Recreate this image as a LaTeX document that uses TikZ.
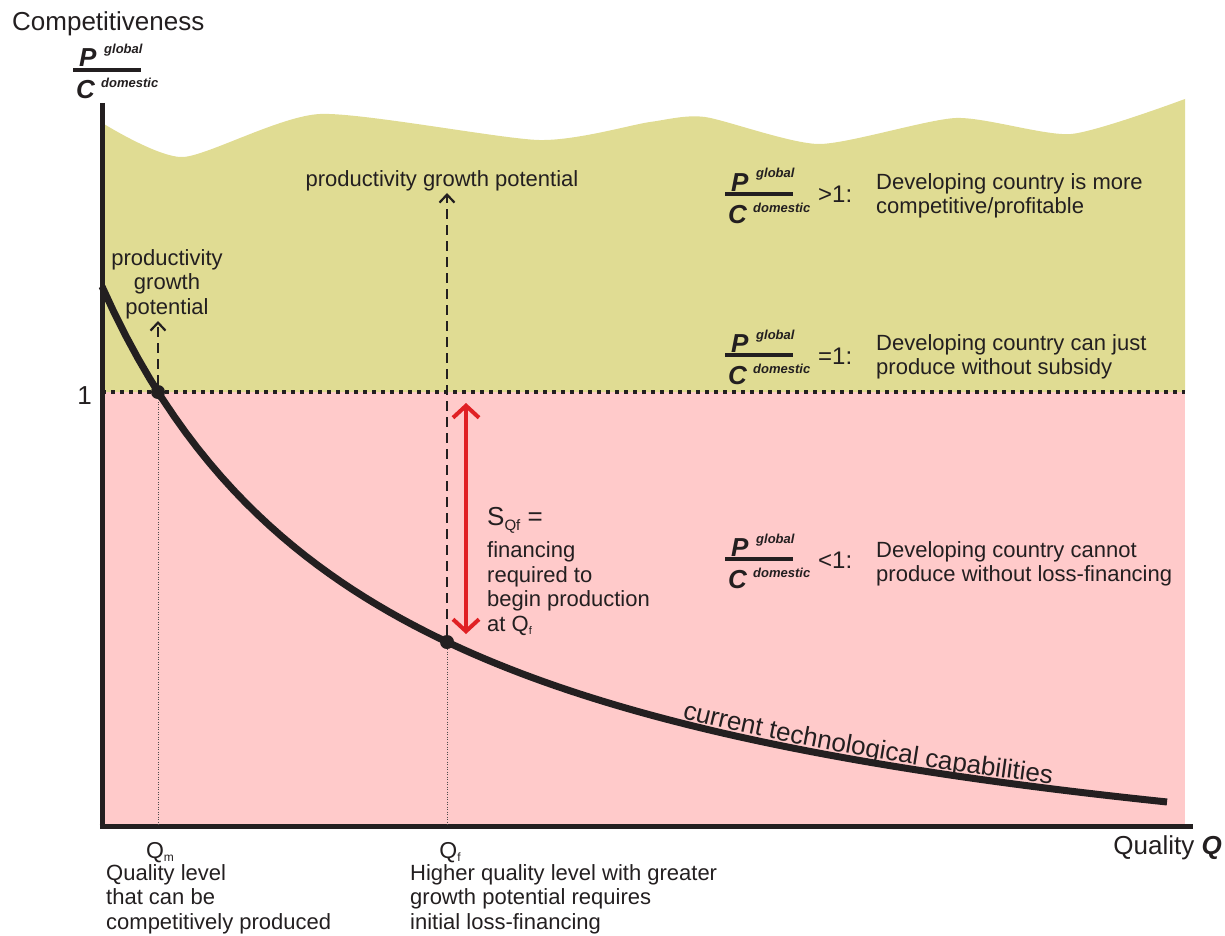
\documentclass[tikz,border=0pt]{standalone}
\usepackage{fontspec}
\setmainfont{Liberation Sans}
\usetikzlibrary{arrows.meta,calc,decorations.text}
\definecolor{ylw}{RGB}{224,220,147}
\definecolor{pnk}{RGB}{255,202,202}
\definecolor{ink}{RGB}{35,31,32}
\definecolor{redar}{RGB}{224,32,36}
\newcommand\bodyfont{\fontsize{22}{24.5}\selectfont}
\newcommand\axfont{\fontsize{26}{28}\selectfont}
\newcommand\pcratio[3]{%
  \coordinate (#1) at (#2,#3);
  \draw[fracbar] (#1) -- ++(68,0) coordinate (#1e);
  \node[bigit, anchor=base west] (#1P) at ($(#1)+(6,-3)$) {P};
  \node[supit, anchor=base west] (#1g) at ($(#1)+(31,-16)$) {global};
  \node[bigit, anchor=base west] (#1C) at ($(#1)+(3,29)$) {C};
  \node[supit, anchor=base west] (#1d) at ($(#1)+(28,18)$) {domestic};
}
\tikzset{
  fracbar/.style={draw=ink, line width=4pt},
  bigit/.style={font=\fontsize{26}{26}\selectfont\bfseries\itshape},
  supit/.style={font=\fontsize{13}{13}\selectfont\bfseries\itshape},
  bodytext/.style={font=\bodyfont},
  axline/.style={draw=ink, line width=5pt},
  capcurve/.style={draw=ink, line width=7pt, line cap=butt},
  dotnode/.style={circle, fill=ink, minimum size=14pt, inner sep=0pt},
  dotline/.style={draw=ink, line width=3.5pt, dash pattern=on 4pt off 5pt},
  thindot/.style={draw=black!70, line width=0.7pt, dash pattern=on 1pt off 1.5pt},
  dasharrow/.style={draw=ink, line width=2.2pt, dash pattern=on 10pt off 6pt, -{Straight Barb[length=8pt,width=15pt]}},
  redarrow/.style={draw=redar, line width=4pt, {Straight Barb[length=12pt,width=26pt]}-{Straight Barb[length=12pt,width=26pt]}},
}
\begin{document}
\begin{tikzpicture}[x=1pt,y=-1pt, every node/.style={inner sep=0pt, text=ink}]
\useasboundingbox (0,0) rectangle (1225,936);
% regions
\fill[pnk] (104,392) rectangle (1185,824);
\fill[ylw] plot[smooth,tension=0.4] coordinates {(104,124) (183,157) (320,114) (539,140) (650,122) (705,117) (819,144) (956,118) (1071,134) (1185,99)} -- (1185,392) -- (104,392) -- cycle;
% axes
\coordinate (O) at (102,826);
\coordinate (Ytop) at (102,103);
\coordinate (Xend) at (1193,826);
\coordinate (Lone) at (102,392);
\coordinate (Rone) at (1185,392);
\draw[dotline] (Lone) -- (Rone);
\draw[axline] (Ytop) -- ($(O)+(0,2.5)$);
\draw[axline] ($(O)+(-2.5,0)$) -- (Xend);
% curve
\draw[capcurve] plot[domain=102:1167, samples=90] (\x, {826 - (1924.46/((\x+190.8)/100) - 117.7)});
\path[decorate, decoration={text along path, text align=left,
  text={|\axfont\color{ink}|current technological capabilities}}]
  plot[domain=682:1090, samples=40] (\x, {826 - (1924.46/((\x+190.8)/100) - 117.7) - 5});
% points
\node[dotnode] (Dm) at (158,392) {};
\node[dotnode] (Df) at (447,642) {};
\draw[thindot] (Dm) -- (Dm |- O);
\draw[thindot] (Df) -- (Df |- O);
\coordinate (Tm) at (158,321);
\coordinate (Tf) at (447,193);
\draw[dasharrow] (Dm.north) -- (Tm);
\draw[dasharrow] (Df.north) -- (Tf);
\coordinate (Ra) at (466,403);
\coordinate (Rb) at (466,634);
\draw[redarrow] (Ra) -- (Rb);
% axis labels
\node[font=\axfont, anchor=base west] (comp) at (12,31) {Competitiveness};
\pcratio{fa}{73}{70}
\node[font=\axfont, anchor=base east] (one) at (92,404) {1};
\node[font=\axfont, anchor=base east] (qual) at (1222,854) {Quality \textbf{\textit{Q}}};
% growth labels (anchor base = last line)
\node[bodytext, align=center, anchor=base] (pgl) at (167,314) {productivity\\growth\\potential};
\node[bodytext, anchor=base] (pgt) at (442,186) {productivity growth potential};
% financing
\node[anchor=base west] (sqf) at (487,525) {\fontsize{26}{28}\selectfont S\raisebox{-5pt}{\fontsize{15}{15}\selectfont Qf} =};
\node[bodytext, align=left, anchor=base west] (fin) at (487,631) {financing\\required to\\begin production\\at Q\raisebox{-3pt}{\fontsize{11}{11}\selectfont f}};
% right labels
\pcratio{fb}{725}{194}
\node[font=\fontsize{24}{24}\selectfont, anchor=base west] (rb) at (818,203) {>1:};
\node[bodytext, align=left, anchor=base west] (tb) at (876,213.5) {Developing country is more\\competitive/profitable};
\pcratio{fc}{725}{355}
\node[font=\fontsize{24}{24}\selectfont, anchor=base west] (rc) at (818,364) {=1:};
\node[bodytext, align=left, anchor=base west] (tc) at (876,374.5) {Developing country can just\\produce without subsidy};
\pcratio{fd}{725}{559}
\node[font=\fontsize{24}{24}\selectfont, anchor=base west] (rd) at (818,568) {<1:};
\node[bodytext, align=left, anchor=base west] (td) at (876,581.5) {Developing country cannot\\produce without loss-financing};
% bottom labels
\node[font=\fontsize{23}{23}\selectfont, anchor=base] (qm) at (160,858) {Q\raisebox{-3pt}{\fontsize{12}{12}\selectfont m}};
\node[bodytext, align=left, anchor=base west] (qmt) at (106,929) {Quality level\\that can be\\competitively produced};
\node[font=\fontsize{23}{23}\selectfont, anchor=base] (qf) at (450,858) {Q\raisebox{-3pt}{\fontsize{12}{12}\selectfont f}};
\node[bodytext, align=left, anchor=base west] (qft) at (410,929) {Higher quality level with greater\\growth potential requires\\initial loss-financing};
\end{tikzpicture}
\end{document}
